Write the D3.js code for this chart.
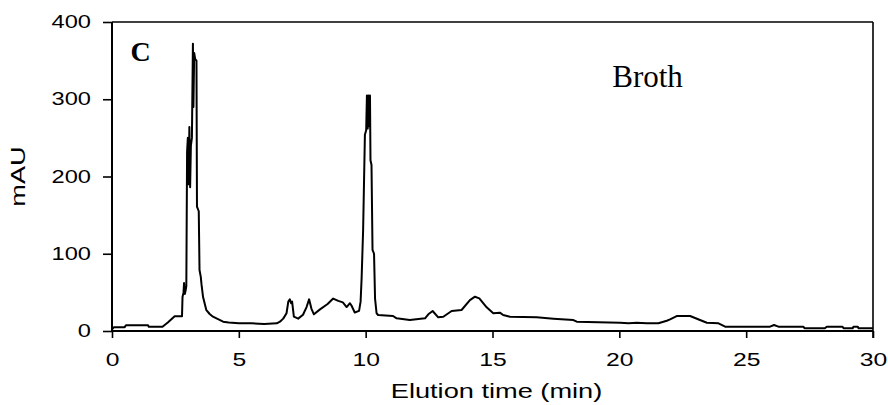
<!DOCTYPE html>
<html>
<head>
<meta charset="utf-8">
<script src="https://cdn.jsdelivr.net/npm/d3@7"></script>
<style>
  html, body { margin: 0; padding: 0; background: #fff; }
  svg { display: block; }
</style>
</head>
<body>
<svg id="chart" width="888" height="405"></svg>
<script>
// ---- Data ----
const times = [
  0, 0.08, 0.5, 0.55, 1.42, 1.45, 1.99, 2.2, 2.47, 2.76,
  2.78, 2.82, 2.84, 2.87, 2.90, 2.93, 2.96, 2.99, 3.02, 3.05,
  3.08, 3.11, 3.15, 3.19, 3.21, 3.24, 3.28, 3.33, 3.35, 3.42,
  3.45, 3.50, 3.53, 3.59, 3.72, 3.85, 3.98, 4.2, 4.38, 4.6,
  5.0, 5.5, 6.0, 6.5, 6.62, 6.75, 6.88, 6.95, 7.01, 7.06,
  7.10, 7.17, 7.34, 7.53, 7.67, 7.77, 7.86, 7.96, 8.2, 8.5,
  8.72, 8.92, 9.1, 9.25, 9.38, 9.44, 9.57, 9.74, 9.80, 9.84,
  9.90, 9.97, 10.02, 10.05, 10.08, 10.11, 10.14, 10.17, 10.19, 10.23,
  10.27, 10.33, 10.37, 10.43, 10.49, 11.08, 11.22, 11.74, 12.34, 12.47,
  12.64, 12.86, 13.06, 13.39, 13.78, 14.11, 14.31, 14.48, 14.77, 15.03,
  15.29, 15.42, 15.69, 16.74, 17.40, 18.19, 18.32, 20.03, 20.36, 20.69,
  21.08, 21.54, 21.87, 22.0, 22.26, 22.79, 23.18, 23.45, 23.91, 24.17,
  25.94, 26.1, 26.27, 27.26, 27.3, 28.1, 28.18, 28.8, 28.84, 29.2,
  29.23, 29.4, 29.43, 30
];
const mau = [
  2, 5, 5, 7.4, 7.4, 5.6, 5.6, 11, 19, 19,
  44, 50, 62, 48, 52, 58, 232, 250, 190, 264,
  186, 240, 250, 372, 290, 360, 352, 350, 161, 155,
  79, 70, 60, 44, 27, 22, 18.5, 15, 12, 11,
  10, 10, 9, 10, 12, 16, 23, 38, 41, 36,
  38, 18.5, 16, 21, 31, 41, 29, 21.6, 28, 35,
  42, 39, 37, 31, 36, 33, 24, 26, 38, 68,
  131, 254, 260, 305, 262, 305, 265, 305, 221, 215,
  105, 100, 42, 23, 20.7, 19.4, 16.4, 14.2, 16.4, 21.6,
  25.9, 17.7, 18.5, 25.9, 27.2, 40, 44.4, 42.3, 30.7, 23,
  23.7, 20.7, 18.5, 17.7, 16, 14.2, 12, 10.7, 10, 10.7,
  10, 10, 13.3, 15, 19.4, 19.4, 14.2, 10.7, 10, 5.6,
  5.6, 7.8, 5.6, 5.6, 3.5, 3.5, 5.6, 5.6, 3.5, 3.5,
  5.6, 5.6, 3.5, 3.5
];
const xTicks = [0, 5, 10, 15, 20, 25, 30];
const yTicks = [0, 100, 200, 300, 400];
const xDomain = [0, 30];
const yDomain = [0, 400];
const xTitle = "Elution time (min)";
const yTitle = "mAU";
const panelLabel = "C";
const sampleLabel = "Broth";

// ---- Layout ----
const svg = d3.select("#chart");
const mLeft = 112, mRight = 873, mTop = 22, mBottom = 331;
const x = d3.scaleLinear().domain(xDomain).range([mLeft, mRight]);
const y = d3.scaleLinear().domain(yDomain).range([mBottom, mTop]);

const sansFont = "'Liberation Sans', Arial, sans-serif";
const serifFont = "'Liberation Serif', 'Times New Roman', serif";
const yTickFont = 17.5, yStretch = 1.35;
const xTickFont = 19, xStretch = 1.3;
const titleFont = 20, titleStretch = 1.36;

// frame (top and right)
svg.append("line").attr("x1", mLeft).attr("x2", mRight).attr("y1", mTop).attr("y2", mTop)
  .attr("stroke", "#000").attr("stroke-width", 1.6);
svg.append("line").attr("x1", mRight).attr("x2", mRight).attr("y1", mTop).attr("y2", mBottom + 7)
  .attr("stroke", "#000").attr("stroke-width", 1.6);

// axes
const xAxis = svg.append("g").attr("transform", `translate(0,${mBottom})`)
  .call(d3.axisBottom(x).tickValues(xTicks).tickSize(7).tickPadding(15).tickFormat(d3.format("d")));
const yAxis = svg.append("g").attr("transform", `translate(${mLeft},0)`)
  .call(d3.axisLeft(y).tickValues(yTicks).tickSize(9).tickPadding(12).tickFormat(d3.format("d")));

[xAxis, yAxis].forEach(g => {
  g.select(".domain").attr("stroke", "#000").attr("stroke-width", 2);
  g.selectAll(".tick line").attr("stroke", "#000").attr("stroke-width", 1.6);
  g.selectAll(".tick text").attr("fill", "#000").style("font-family", sansFont);
});
xAxis.selectAll(".tick text").style("font-size", xTickFont + "px");
yAxis.selectAll(".tick text").style("font-size", yTickFont + "px");
xAxis.select(".domain").attr("d", `M${mLeft},0H${mRight}`);
yAxis.select(".domain").attr("d", `M0,${mBottom}V${mTop}`);

// horizontal stretch of sans text (reference glyphs are wide)
xAxis.selectAll(".tick text").each(function() {
  const t = d3.select(this);
  const yy = +t.attr("y");
  t.attr("transform", `translate(0,${yy}) scale(${xStretch},1)`).attr("y", 0);
});
yAxis.selectAll(".tick text").each(function() {
  const t = d3.select(this);
  const xx = +t.attr("x");
  t.attr("transform", `translate(${xx},0) scale(${yStretch},1)`).attr("x", 0);
});

// line
const line = d3.line().x((d, i) => x(times[i])).y(d => y(d));
svg.append("path").datum(mau).attr("d", line)
  .attr("fill", "none").attr("stroke", "#000").attr("stroke-width", 2)
  .attr("stroke-linejoin", "round");

// axis titles
svg.append("text")
  .attr("transform", `translate(${(mLeft + mRight) / 2 + 4},398) scale(${titleStretch},1)`)
  .attr("text-anchor", "middle")
  .style("font-family", sansFont).style("font-size", titleFont + "px")
  .text(xTitle);
svg.append("text")
  .attr("transform", `translate(25,${(mTop + mBottom) / 2}) rotate(-90) scale(${titleStretch},1)`)
  .attr("text-anchor", "middle")
  .style("font-family", sansFont).style("font-size", titleFont + "px")
  .text(yTitle);

// panel labels
svg.append("text").attr("x", x(0.73)).attr("y", 60.5)
  .style("font-family", serifFont).style("font-size", "28px").style("font-weight", "bold")
  .text(panelLabel);
svg.append("text").attr("x", x(19.72)).attr("y", 87)
  .style("font-family", serifFont).style("font-size", "31px")
  .text(sampleLabel);
</script>
</body>
</html>
